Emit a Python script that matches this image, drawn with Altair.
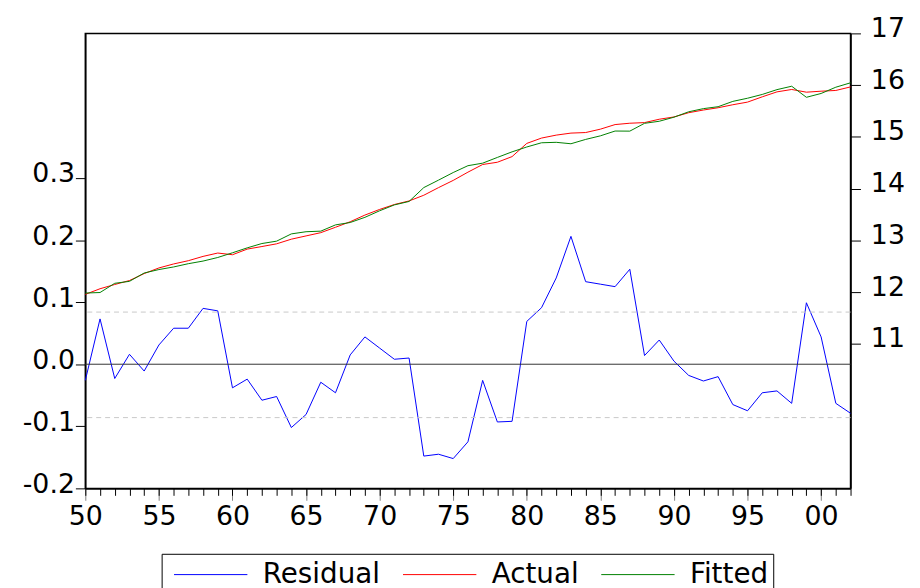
import altair as alt
import pandas as pd

years = list(range(1950, 2003))

residual = [
    -0.026, 0.073, -0.023, 0.016, -0.011, 0.031, 0.058, 0.058, 0.090, 0.086,
    -0.038, -0.024, -0.058, -0.052, -0.102, -0.081, -0.029, -0.046, 0.015, 0.044,
    0.026, 0.008, 0.010, -0.148, -0.145, -0.152, -0.125, -0.026, -0.093, -0.092,
    0.069, 0.091, 0.139, 0.206, 0.133, 0.129, 0.125, 0.153, 0.014, 0.039,
    0.005, -0.018, -0.027, -0.020, -0.065, -0.075, -0.046, -0.043, -0.063, 0.099,
    0.044, -0.063, -0.079,
]

actual = [
    11.956, 12.065, 12.147, 12.224, 12.358, 12.467, 12.544, 12.607, 12.690, 12.755,
    12.722, 12.831, 12.881, 12.933, 13.023, 13.086, 13.149, 13.253, 13.360, 13.489,
    13.598, 13.693, 13.762, 13.872, 14.019, 14.159, 14.318, 14.466, 14.510, 14.619,
    14.874, 14.977, 15.034, 15.073, 15.084, 15.149, 15.238, 15.264, 15.276, 15.341,
    15.385, 15.467, 15.519, 15.563, 15.621, 15.672, 15.774, 15.870, 15.916, 15.864,
    15.883, 15.897, 15.966,
]

fitted = [
    11.982, 11.992, 12.170, 12.208, 12.369, 12.436, 12.486, 12.549, 12.600, 12.669,
    12.760, 12.855, 12.939, 12.985, 13.125, 13.167, 13.178, 13.299, 13.345, 13.445,
    13.572, 13.685, 13.752, 14.020, 14.164, 14.311, 14.443, 14.492, 14.603, 14.711,
    14.805, 14.886, 14.895, 14.867, 14.951, 15.020, 15.113, 15.111, 15.262, 15.302,
    15.380, 15.485, 15.546, 15.583, 15.686, 15.747, 15.820, 15.913, 15.979, 15.765,
    15.839, 15.960, 16.045,
]

sd_lines = [0.084, -0.086]
zero_line = [0.0]

left_ticks = [-0.2, -0.1, 0.0, 0.1, 0.2, 0.3]
right_ticks = [11, 12, 13, 14, 15, 16, 17]
major_years = list(range(1950, 2001, 5))

series_names = ["Residual", "Actual", "Fitted"]
series_colors = ["#0000FF", "#FF0000", "#008000"]

resid_df = pd.DataFrame({"year": years, "value": residual, "series": "Residual"})
af_df = pd.concat([
    pd.DataFrame({"year": years, "value": actual, "series": "Actual"}),
    pd.DataFrame({"year": years, "value": fitted, "series": "Fitted"}),
])
sd_df = pd.DataFrame({"value": sd_lines})
zero_df = pd.DataFrame({"value": zero_line})

FONT = "DejaVu Sans"
AXIS_FS = 27
xscale = alt.Scale(domain=[1950, 2002], nice=False, zero=False)
lscale = alt.Scale(domain=[-0.2, 0.533], nice=False, zero=False)
rscale = alt.Scale(domain=[8.207, 17.0], nice=False, zero=False)

left_axis = alt.Axis(
    orient="left",
    values=left_ticks,
    labelExpr="(datum.value < 0 ? '-' : '') + format(abs(datum.value), '.1f')",
    tickSize=10,
    tickColor="black",
    labelPadding=1,
    labelOffset=-4,
    labelFlush=False,
    labelFont=FONT,
    labelFontSize=AXIS_FS,
    labelColor="black",
    grid=False,
    domainColor="black",
    domainWidth=1.5,
)

color = alt.Color(
    "series:N",
    title=None,
    scale=alt.Scale(domain=series_names, range=series_colors),
    legend=alt.Legend(
        orient="none",
        legendX=77,
        legendY=525,
        direction="horizontal",
        symbolType="stroke",
        symbolSize=5476,
        symbolStrokeWidth=1,
        clipHeight=32,
        labelFont=FONT,
        labelFontSize=28,
        labelColor="black",
        labelOffset=15,
        columnPadding=15,
        padding=5,
        symbolOffset=7,
        strokeColor="black",
        fillColor="white",
    ),
)

resid_line = alt.Chart(resid_df).mark_line(strokeWidth=1).encode(
    x=alt.X(
        "year:Q",
        scale=xscale,
        title=None,
        axis=alt.Axis(
            orient="bottom",
            values=major_years,
            tickSize=12,
            tickColor="#808080",
            labelExpr="pad(toString(datum.value % 100), 2, '0', 'left')",
            labelFlush=False,
            labelFont=FONT,
            labelFontSize=AXIS_FS,
            labelColor="black",
            labelPadding=3,
            grid=False,
            domainColor="black",
            domainWidth=1.5,
        ),
    ),
    y=alt.Y("value:Q", scale=lscale, title=None, axis=left_axis),
    color=color,
)

dash = alt.Chart(sd_df).mark_rule(color="#C8C8C8", strokeDash=[5, 4], strokeWidth=1).encode(
    y=alt.Y("value:Q", scale=lscale, title=None, axis=left_axis)
)
zero = alt.Chart(zero_df).mark_rule(color="#333333", strokeWidth=1).encode(
    y=alt.Y("value:Q", scale=lscale, title=None, axis=left_axis)
)

af_line = alt.Chart(af_df).mark_line(strokeWidth=1).encode(
    x=alt.X(
        "year:Q",
        scale=xscale,
        title=None,
        axis=alt.Axis(
            orient="bottom",
            values=years,
            labels=False,
            tickSize=7,
            tickColor="black",
            grid=False,
            domainColor="black",
            domainWidth=1.5,
        ),
    ),
    y=alt.Y(
        "value:Q",
        scale=rscale,
        title=None,
        axis=alt.Axis(
            orient="right",
            values=right_ticks,
            format="d",
            tickSize=10,
            tickColor="black",
            labelPadding=10,
            labelOffset=-5,
            labelFlush=False,
            labelFont=FONT,
            labelFontSize=AXIS_FS,
            labelColor="black",
            grid=False,
            domainColor="black",
            domainWidth=1.5,
        ),
    ),
    color=color,
)

left = alt.layer(resid_line, dash, zero)

chart = (
    alt.layer(left, af_line)
    .resolve_scale(y="independent")
    .resolve_axis(x="independent", y="independent")
    .properties(
        width=772,
        height=459,
        autosize=alt.AutoSizeParams(type="none"),
        padding={"left": 78, "top": 23, "right": 62, "bottom": 110},
        background="white",
    )
    .configure_view(stroke="black", strokeWidth=1.5)
)

chart.save("out.html", embed_options={"renderer": "svg", "actions": False})
